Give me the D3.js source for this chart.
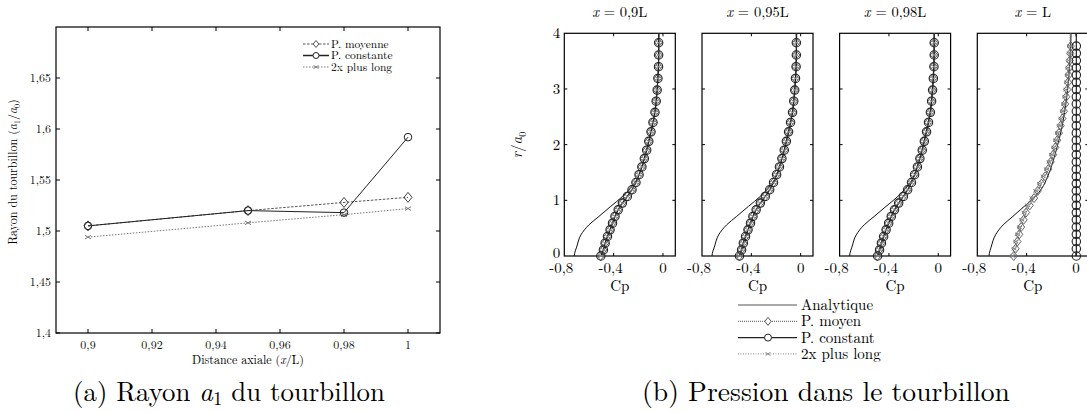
<!DOCTYPE html>
<html>
<head>
<meta charset="utf-8">
<script src="https://cdn.jsdelivr.net/npm/d3@7"></script>
<style>
    body { margin: 0; background: #fff; }
    svg { display: block; }
    .tick-label { font-size: 12px; fill: #111; }
</style>
</head>
<body>
<div id="chart"></div>
<script>
// ---- (a) Rayon a1 du tourbillon ----
const axialPos = [0.9, 0.95, 0.98, 1.0];
const rayonMoyenne = [1.505, 1.520, 1.528, 1.533];
const rayonConstante = [1.505, 1.520, 1.518, 1.592];
const rayonLong = [1.494, 1.508, 1.516, 1.522];
const leftXTicks = [0.9, 0.92, 0.94, 0.96, 0.98, 1.0];
const leftXTickLabels = ["0,9", "0,92", "0,94", "0,96", "0,98", "1"];
const leftYTicks = [1.4, 1.45, 1.5, 1.55, 1.6, 1.65];
const leftYTickLabels = ["1,4", "1,45", "1,5", "1,55", "1,6", "1,65"];

// ---- (b) Pression dans le tourbillon ----
const stations = ["0,9L", "0,95L", "0,98L", "L"];
const cpTicks = [-0.8, -0.4, 0];
const cpTickLabels = ["-0,8", "-0,4", "0"];
const rTicks = [0, 1, 2, 3, 4];

const analyticR = [0, 0.05, 0.16, 0.38, 0.56, 0.71, 0.89, 1.07, 1.22, 1.40, 1.60, 1.90, 2.23, 2.58, 2.98, 3.40, 4.0];
const analyticCp = [-0.719, -0.716, -0.70, -0.665, -0.60, -0.52, -0.424, -0.328, -0.262, -0.205, -0.172, -0.133, -0.098, -0.066, -0.048, -0.037, -0.032];
const analyticCpL = [-0.705, -0.702, -0.688, -0.652, -0.590, -0.512, -0.420, -0.330, -0.275, -0.235, -0.200, -0.160, -0.122, -0.092, -0.068, -0.052, -0.040];

// radial stations of the simulations at x = 0,9L .. 0,98L
const rGrid = [0, 0.11, 0.23, 0.35, 0.47, 0.59, 0.71, 0.83, 0.95, 1.07, 1.19, 1.32, 1.46, 1.60, 1.75, 1.90, 2.06, 2.23, 2.40, 2.58, 2.78, 2.98, 3.19, 3.40, 3.61, 3.83];
const cpMoyen1 = [-0.506, -0.484, -0.470, -0.451, -0.430, -0.410, -0.390, -0.364, -0.330, -0.290, -0.252, -0.220, -0.195, -0.172, -0.152, -0.133, -0.116, -0.098, -0.082, -0.066, -0.056, -0.048, -0.042, -0.037, -0.036, -0.036];
const cpMoyen2 = [-0.497, -0.480, -0.466, -0.448, -0.428, -0.408, -0.388, -0.362, -0.328, -0.288, -0.252, -0.221, -0.196, -0.173, -0.153, -0.134, -0.117, -0.099, -0.083, -0.067, -0.057, -0.049, -0.043, -0.038, -0.036, -0.036];
const cpMoyen3 = [-0.494, -0.478, -0.463, -0.445, -0.425, -0.404, -0.383, -0.357, -0.323, -0.285, -0.250, -0.219, -0.194, -0.171, -0.151, -0.132, -0.115, -0.097, -0.081, -0.066, -0.056, -0.048, -0.042, -0.037, -0.035, -0.035];
const cpConst1 = [-0.504, -0.483, -0.469, -0.450, -0.429, -0.409, -0.389, -0.363, -0.329, -0.289, -0.251, -0.219, -0.194, -0.171, -0.151, -0.132, -0.115, -0.097, -0.081, -0.065, -0.055, -0.047, -0.041, -0.036, -0.035, -0.035];
const cpConst2 = [-0.496, -0.479, -0.465, -0.447, -0.427, -0.407, -0.387, -0.361, -0.327, -0.287, -0.251, -0.220, -0.195, -0.172, -0.152, -0.133, -0.116, -0.098, -0.082, -0.066, -0.056, -0.048, -0.042, -0.037, -0.035, -0.035];
const cpConst3 = [-0.492, -0.476, -0.461, -0.443, -0.423, -0.402, -0.381, -0.355, -0.321, -0.283, -0.248, -0.217, -0.192, -0.169, -0.149, -0.130, -0.113, -0.095, -0.079, -0.064, -0.054, -0.046, -0.040, -0.035, -0.033, -0.033];
const cpLong1 = [-0.500, -0.481, -0.467, -0.448, -0.427, -0.407, -0.387, -0.361, -0.327, -0.287, -0.250, -0.218, -0.193, -0.170, -0.150, -0.131, -0.114, -0.096, -0.080, -0.065, -0.055, -0.047, -0.041, -0.036, -0.035, -0.035];
const cpLong2 = [-0.494, -0.478, -0.464, -0.446, -0.426, -0.406, -0.386, -0.360, -0.326, -0.286, -0.250, -0.219, -0.194, -0.171, -0.151, -0.132, -0.115, -0.097, -0.081, -0.065, -0.055, -0.047, -0.041, -0.036, -0.035, -0.035];
const cpLong3 = [-0.490, -0.474, -0.459, -0.441, -0.421, -0.400, -0.379, -0.353, -0.319, -0.281, -0.246, -0.215, -0.190, -0.167, -0.147, -0.128, -0.111, -0.093, -0.077, -0.062, -0.052, -0.044, -0.038, -0.034, -0.032, -0.032];

// x = L : denser radial stations
const rGridL = [0, 0.13, 0.26, 0.39, 0.52, 0.65, 0.78, 0.91, 1.04, 1.17, 1.30, 1.43, 1.56, 1.69, 1.82, 1.95, 2.08, 2.21, 2.34, 2.47, 2.60, 2.73, 2.86, 2.99, 3.12, 3.25, 3.38, 3.51, 3.64, 3.77];
const cpMoyenL = [-0.505, -0.490, -0.475, -0.460, -0.445, -0.425, -0.405, -0.375, -0.340, -0.310, -0.280, -0.250, -0.225, -0.205, -0.185, -0.168, -0.152, -0.138, -0.124, -0.110, -0.098, -0.088, -0.079, -0.071, -0.065, -0.060, -0.055, -0.050, -0.046, -0.042];
const cpLongL = [-0.515, -0.502, -0.488, -0.474, -0.458, -0.440, -0.420, -0.392, -0.357, -0.326, -0.296, -0.266, -0.240, -0.219, -0.199, -0.181, -0.165, -0.150, -0.136, -0.122, -0.110, -0.099, -0.090, -0.082, -0.075, -0.069, -0.064, -0.059, -0.054, -0.050];
const cpConstL = [0.003, 0.003, 0.003, 0.003, 0.003, 0.003, 0.003, 0.003, 0.003, 0.003, 0.003, 0.003, 0.003, 0.003, 0.003, 0.003, 0.003, 0.003, 0.003, 0.003, 0.003, 0.003, 0.003, 0.003, 0.003, 0.003, 0.003, 0.003, 0.003, 0.003];

const panelGrids = [rGrid, rGrid, rGrid, rGridL];
const panelAnalytic = [analyticCp, analyticCp, analyticCp, analyticCpL];
const panelMoyen = [cpMoyen1, cpMoyen2, cpMoyen3, cpMoyenL];
const panelConst = [cpConst1, cpConst2, cpConst3, cpConstL];
const panelLong = [cpLong1, cpLong2, cpLong3, cpLongL];
const rTop = 4;

// find an installed serif face (the generic "serif" may map to a sans here)
function pickFont(candidates) {
    const ctx = document.createElement("canvas").getContext("2d");
    const sample = "Rayon du tourbillon 0123456789 mmwwlliiWQ";
    for (const f of candidates) {
        for (const base of ["monospace", "sans-serif"]) {
            ctx.font = `40px ${base}`;
            const w0 = ctx.measureText(sample).width;
            ctx.font = `40px "${f}", ${base}`;
            const w1 = ctx.measureText(sample).width;
            if (Math.abs(w0 - w1) > 0.5) return f;
        }
    }
    return "serif";
}
const fontFace = pickFont(["Latin Modern Roman", "CMU Serif", "Liberation Serif", "Tinos", "Times New Roman",
    "Nimbus Roman", "Nimbus Roman No9 L", "FreeSerif", "Noto Serif", "DejaVu Serif", "Times"]);

const W = 1087, H = 413;
const svg = d3.select("#chart").append("svg")
    .attr("width", W)
    .attr("height", H)
    .attr("viewBox", `0 0 ${W} ${H}`)
    .style("font-family", `"${fontFace}", serif`);

function diamondPath(cx, cy, s) {
    return `M${cx},${cy - s}L${cx + s * 0.8},${cy}L${cx},${cy + s}L${cx - s * 0.8},${cy}Z`;
}
function crossPath(cx, cy, s) {
    return `M${cx - s},${cy - s * 0.6}L${cx + s},${cy + s * 0.6}M${cx - s},${cy + s * 0.6}L${cx + s},${cy - s * 0.6}`;
}

function drawLeftChart() {
    const box = { left: 56, right: 440, top: 27, bottom: 333 };
    const x = d3.scaleLinear().domain([0.89, 1.01]).range([box.left, box.right]);
    const y = d3.scaleLinear().domain([1.4, 1.7]).range([box.bottom, box.top]);
    const g = svg.append("g");

    g.append("rect")
        .attr("x", box.left).attr("y", box.top)
        .attr("width", box.right - box.left).attr("height", box.bottom - box.top)
        .attr("fill", "none").attr("stroke", "#000").attr("stroke-width", 1.2);

    // inward ticks on all four sides
    leftXTicks.forEach(t => {
        g.append("line").attr("x1", x(t)).attr("x2", x(t)).attr("y1", box.bottom).attr("y2", box.bottom - 4).attr("stroke", "#000");
        g.append("line").attr("x1", x(t)).attr("x2", x(t)).attr("y1", box.top).attr("y2", box.top + 4).attr("stroke", "#000");
    });
    leftYTicks.forEach(t => {
        g.append("line").attr("x1", box.left).attr("x2", box.left + 4).attr("y1", y(t)).attr("y2", y(t)).attr("stroke", "#000");
        g.append("line").attr("x1", box.right).attr("x2", box.right - 4).attr("y1", y(t)).attr("y2", y(t)).attr("stroke", "#000");
    });

    g.selectAll(".xlab").data(leftXTicks).enter().append("text")
        .attr("class", "tick-label")
        .attr("x", d => x(d)).attr("y", box.bottom + 16)
        .attr("text-anchor", "middle")
        .text((d, i) => leftXTickLabels[i]);
    g.selectAll(".ylab").data(leftYTicks).enter().append("text")
        .attr("class", "tick-label")
        .attr("x", box.left - 5).attr("y", d => y(d) + 4)
        .attr("text-anchor", "end")
        .text((d, i) => leftYTickLabels[i]);

    const xl = g.append("text").attr("x", 248).attr("y", 364).attr("text-anchor", "middle").attr("font-size", 12);
    xl.append("tspan").text("Distance axiale (");
    xl.append("tspan").attr("font-style", "italic").text("x");
    xl.append("tspan").text("/L)");

    const yl = g.append("text").attr("transform", "translate(17,172) rotate(-90)").attr("text-anchor", "middle").attr("font-size", 12);
    yl.append("tspan").text("Rayon du tourbillon (");
    yl.append("tspan").attr("font-style", "italic").text("a");
    yl.append("tspan").attr("font-size", 8).attr("dy", 3).text("1");
    yl.append("tspan").attr("dy", -3).text("/");
    yl.append("tspan").attr("font-style", "italic").text("a");
    yl.append("tspan").attr("font-size", 8).attr("dy", 3).text("0");
    yl.append("tspan").attr("dy", -3).text(")");

    const line = d3.line().x((d, i) => x(axialPos[i])).y(d => y(d));

    g.append("path").attr("d", line(rayonLong)).attr("fill", "none")
        .attr("stroke", "#777").attr("stroke-width", 1).attr("stroke-dasharray", "1.5,1.5");
    g.append("path").attr("d", line(rayonMoyenne)).attr("fill", "none")
        .attr("stroke", "#555").attr("stroke-width", 1).attr("stroke-dasharray", "2.5,1.5");
    g.append("path").attr("d", line(rayonConstante)).attr("fill", "none")
        .attr("stroke", "#222").attr("stroke-width", 1);

    rayonLong.forEach((v, i) => {
        g.append("path").attr("d", crossPath(x(axialPos[i]), y(v), 3)).attr("stroke", "#777").attr("fill", "none");
    });
    rayonMoyenne.forEach((v, i) => {
        g.append("path").attr("d", diamondPath(x(axialPos[i]), y(v), 5)).attr("stroke", "#444").attr("fill", "none");
    });
    rayonConstante.forEach((v, i) => {
        g.append("circle").attr("cx", x(axialPos[i])).attr("cy", y(v)).attr("r", 3.8).attr("stroke", "#222").attr("fill", "none");
    });

    // legend
    const legend = [
        { label: "P. moyenne", type: "diamond", dash: "2.5,1.5", color: "#555" },
        { label: "P. constante", type: "circle", dash: null, color: "#222" },
        { label: "2x plus long", type: "cross", dash: "1.5,1.5", color: "#777" }
    ];
    legend.forEach((d, i) => {
        const ly = 44 + i * 11.5;
        g.append("line").attr("x1", 303).attr("x2", 329).attr("y1", ly).attr("y2", ly)
            .attr("stroke", d.color).attr("stroke-dasharray", d.dash)
            .attr("stroke-width", d.type === "circle" ? 1.5 : 1);
        if (d.type === "diamond") g.append("path").attr("d", diamondPath(316, ly, 3.5)).attr("stroke", d.color).attr("fill", "#fff");
        if (d.type === "circle") g.append("circle").attr("cx", 316).attr("cy", ly).attr("r", 3).attr("stroke", d.color).attr("fill", "#fff");
        if (d.type === "cross") g.append("path").attr("d", crossPath(316, ly, 2.5)).attr("stroke", d.color);
        g.append("text").attr("x", 331).attr("y", ly + 3.5).attr("font-size", 11.5).text(d.label);
    });

    fitCaption(g, "(a) Rayon ", "a", "1", " du tourbillon", 229, 401, 312);
}

function fitCaption(g, pre, mathVar, sub, post, cx, cy, targetWidth) {
    const t = g.append("text").attr("x", cx).attr("y", cy).attr("text-anchor", "middle").attr("font-size", 20);
    t.append("tspan").text(pre);
    if (mathVar) {
        t.append("tspan").attr("font-style", "italic").text(mathVar);
        t.append("tspan").attr("class", "sub").attr("font-size", 14).attr("dy", 4).text(sub);
        t.append("tspan").attr("dy", -4).text(post);
    }
    const w = t.node().getComputedTextLength();
    const fs = 20 * targetWidth / w;
    t.attr("font-size", fs);
    t.selectAll(".sub").attr("font-size", fs * 0.7);
}

function drawRightChart() {
    const top = 33.3, bottom = 256, pw = 111;
    const lefts = [564.3, 702, 839.6, 977.3];
    const y = d3.scaleLinear().domain([0, 4]).range([bottom, top]);
    const g = svg.append("g");

    stations.forEach((st, p) => {
        const x = d3.scaleLinear().domain([-0.8, 0.1]).range([lefts[p], lefts[p] + pw]);
        const pg = g.append("g");

        pg.append("rect")
            .attr("x", lefts[p]).attr("y", top).attr("width", pw).attr("height", bottom - top)
            .attr("fill", "none").attr("stroke", "#000").attr("stroke-width", 1.2);

        rTicks.slice(1, 4).forEach(t => {
            pg.append("line").attr("x1", lefts[p]).attr("x2", lefts[p] + 3).attr("y1", y(t)).attr("y2", y(t)).attr("stroke", "#000");
            pg.append("line").attr("x1", lefts[p] + pw).attr("x2", lefts[p] + pw - 3).attr("y1", y(t)).attr("y2", y(t)).attr("stroke", "#000");
        });
        cpTicks.slice(1).forEach(t => {
            pg.append("line").attr("x1", x(t)).attr("x2", x(t)).attr("y1", top).attr("y2", top + 3).attr("stroke", "#000");
            pg.append("line").attr("x1", x(t)).attr("x2", x(t)).attr("y1", bottom).attr("y2", bottom - 3).attr("stroke", "#000");
        });

        pg.selectAll(".cpl").data(cpTicks).enter().append("text")
            .attr("x", d => x(d) - (d < 0 ? 3 : 0)).attr("y", bottom + 16.5)
            .attr("text-anchor", "middle").attr("font-size", 15)
            .text((d, i) => cpTickLabels[i]);
        pg.append("text").attr("x", x(-0.35)).attr("y", bottom + 35)
            .attr("text-anchor", "middle").attr("font-size", 15).text("Cp");

        const title = pg.append("text").attr("x", lefts[p] + pw / 2).attr("y", 17)
            .attr("text-anchor", "middle").attr("font-size", 14.5);
        title.append("tspan").attr("font-style", "italic").text("x");
        title.append("tspan").text(" = " + st);

        if (p === 0) {
            pg.selectAll(".rl").data(rTicks).enter().append("text")
                .attr("x", lefts[p] - 4).attr("y", d => y(d) + (d === 0 ? 1.5 : 5))
                .attr("text-anchor", "end").attr("font-size", 15)
                .text(d => d);
            const rl = pg.append("text").attr("transform", `translate(${lefts[p] - 42},145) rotate(-90)`)
                .attr("text-anchor", "middle").attr("font-size", 15);
            rl.append("tspan").attr("font-style", "italic").text("r");
            rl.append("tspan").text("/");
            rl.append("tspan").attr("font-style", "italic").text("a");
            rl.append("tspan").attr("font-size", 10).attr("dy", 4).text("0");
        }

        const line = d3.line().x(d => x(d[1])).y(d => y(d[0])).curve(d3.curveMonotoneY);
        const grid = panelGrids[p];
        const series = (vals) => grid.map((r, i) => [r, vals[i]]);
        const withTop = (vals) => series(vals).concat([[rTop, vals[vals.length - 1]]]);

        pg.append("path").attr("d", line(analyticR.map((r, i) => [r, panelAnalytic[p][i]])))
            .attr("fill", "none").attr("stroke", "#111").attr("stroke-width", 1);
        pg.append("path").attr("d", line(withTop(panelLong[p])))
            .attr("fill", "none").attr("stroke", "#888").attr("stroke-dasharray", "1,1.5");
        pg.append("path").attr("d", line(withTop(panelMoyen[p])))
            .attr("fill", "none").attr("stroke", "#666").attr("stroke-dasharray", "2,1");
        pg.append("path").attr("d", line(withTop(panelConst[p])))
            .attr("fill", "none").attr("stroke", "#222").attr("stroke-width", 1.2);

        series(panelLong[p]).forEach(d => {
            pg.append("path").attr("d", crossPath(x(d[1]), y(d[0]), 2.5)).attr("stroke", "#888").attr("fill", "none");
        });
        series(panelMoyen[p]).forEach(d => {
            pg.append("path").attr("d", diamondPath(x(d[1]), y(d[0]), 4.5)).attr("stroke", "#666").attr("fill", "none");
        });
        series(panelConst[p]).forEach(d => {
            pg.append("circle").attr("cx", x(d[1])).attr("cy", y(d[0])).attr("r", 4.2)
                .attr("stroke", "#222").attr("fill", "none").attr("stroke-width", 1.1);
        });
    });

    // legend
    const legend = [
        { label: "Analytique", type: null, dash: null, color: "#555" },
        { label: "P. moyen", type: "diamond", dash: "1,1", color: "#555" },
        { label: "P. constant", type: "circle", dash: null, color: "#222" },
        { label: "2x plus long", type: "cross", dash: "1,1.5", color: "#888" }
    ];
    legend.forEach((d, i) => {
        const ly = 305 + i * 16.3;
        g.append("line").attr("x1", 738).attr("x2", 797).attr("y1", ly).attr("y2", ly)
            .attr("stroke", d.color).attr("stroke-dasharray", d.dash)
            .attr("stroke-width", d.type === "circle" ? 1.3 : 1);
        if (d.type === "diamond") g.append("path").attr("d", diamondPath(768, ly, 4)).attr("stroke", d.color).attr("fill", "#fff");
        if (d.type === "circle") g.append("circle").attr("cx", 768).attr("cy", ly).attr("r", 3.5).attr("stroke", d.color).attr("fill", "#fff");
        if (d.type === "cross") g.append("path").attr("d", crossPath(768, ly, 2.5)).attr("stroke", d.color);
        g.append("text").attr("x", 801).attr("y", ly + 5).attr("font-size", 15).text(d.label);
    });

    fitCaption(g, "(b) Pression dans le tourbillon", null, null, null, 826, 401, 368);
}

drawLeftChart();
drawRightChart();
</script>
</body>
</html>
